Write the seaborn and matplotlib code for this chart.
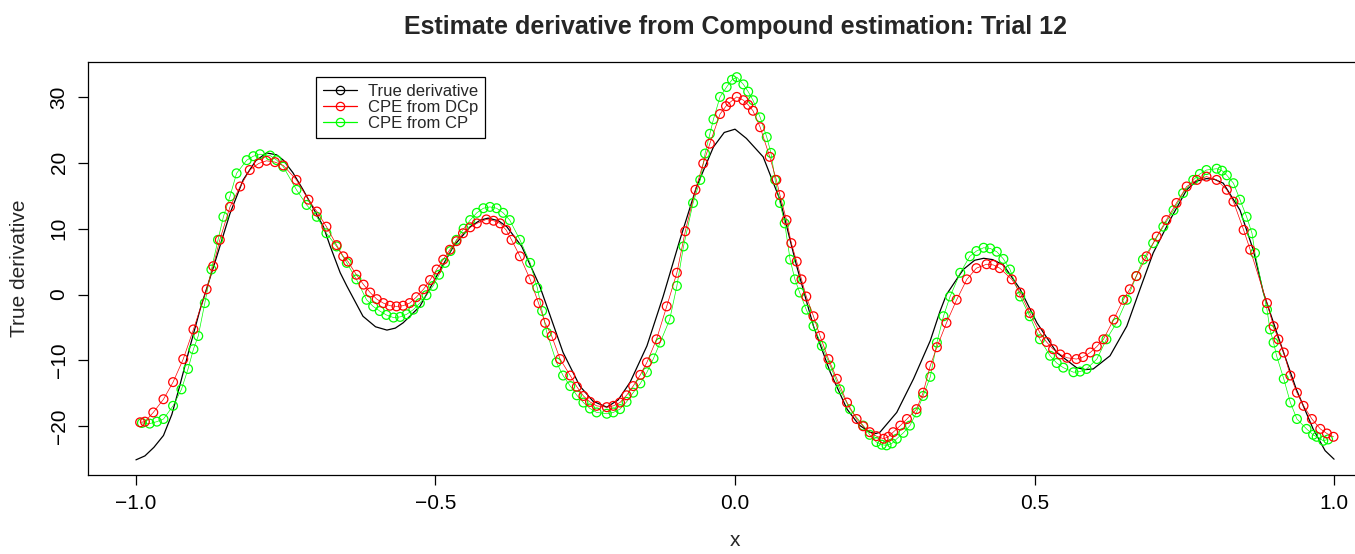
import matplotlib
matplotlib.use("Agg")
import matplotlib.pyplot as plt
from matplotlib.lines import Line2D
import seaborn as sns
import pandas as pd

# ---------------- data ----------------
true_x = [-1.000, -0.985, -0.970, -0.954, -0.940, -0.927, -0.910, -0.893, -0.865, -0.843,
          -0.821, -0.800, -0.782, -0.765, -0.754, -0.738, -0.721, -0.687, -0.676, -0.659,
          -0.648, -0.621, -0.600, -0.581, -0.567, -0.554, -0.526, -0.498, -0.470, -0.442,
          -0.425, -0.412, -0.395, -0.381, -0.356, -0.326, -0.309, -0.287, -0.259, -0.237,
          -0.214, -0.195, -0.175, -0.147, -0.120, -0.092, -0.064, -0.036, -0.018, 0.000,
          0.019, 0.047, 0.075, 0.103, 0.131, 0.159, 0.187, 0.207, 0.225, 0.235,
          0.242, 0.270, 0.298, 0.326, 0.342, 0.353, 0.381, 0.400, 0.415, 0.430,
          0.448, 0.476, 0.504, 0.537, 0.570, 0.585, 0.598, 0.626, 0.654, 0.676,
          0.698, 0.726, 0.754, 0.770, 0.787, 0.800, 0.815, 0.843, 0.865, 0.882,
          0.910, 0.937, 0.965, 0.985, 1.000]
true_y = [-25.1, -24.5, -23.2, -21.4, -18.2, -13.9, -8.0, -2.3, 5.8, 12.3,
          17.4, 20.3, 21.5, 21.2, 20.4, 18.5, 15.9, 10.3, 7.4, 3.3,
          1.3, -3.3, -4.9, -5.4, -5.1, -4.3, -1.8, 2.8, 7.3, 10.3,
          11.3, 11.6, 11.2, 10.3, 7.3, 1.3, -3.1, -8.8, -13.9, -16.2,
          -17.1, -16.0, -13.3, -7.8, -0.3, 8.3, 16.4, 22.4, 24.6, 25.1,
          23.7, 20.9, 14.4, 4.3, -4.8, -11.8, -17.4, -19.8, -20.9, -21.1,
          -20.9, -17.9, -12.8, -7.0, -2.6, 0.0, 3.8, 5.2, 5.5, 5.3,
          4.5, 0.8, -4.3, -8.8, -11.1, -11.4, -11.3, -9.3, -4.8, 0.8,
          6.3, 11.3, 15.9, 17.2, 17.6, 17.5, 16.9, 12.8, 6.8, 0.3,
          -7.3, -14.4, -20.4, -23.7, -25.0]

dcp_x = [-0.993, -0.985, -0.971, -0.954, -0.938, -0.921, -0.904, -0.882, -0.871, -0.860,
         -0.843, -0.826, -0.810, -0.795, -0.782, -0.768, -0.754, -0.732, -0.712, -0.698,
         -0.682, -0.665, -0.654, -0.646, -0.632, -0.620, -0.609, -0.598, -0.587, -0.576,
         -0.565, -0.554, -0.543, -0.532, -0.520, -0.509, -0.498, -0.487, -0.476, -0.465,
         -0.454, -0.442, -0.431, -0.415, -0.403, -0.392, -0.382, -0.373, -0.359, -0.342,
         -0.328, -0.317, -0.306, -0.292, -0.275, -0.264, -0.253, -0.242, -0.231, -0.214,
         -0.203, -0.192, -0.181, -0.170, -0.158, -0.147, -0.131, -0.114, -0.097, -0.083,
         -0.066, -0.053, -0.042, -0.025, -0.015, -0.008, 0.003, 0.014, 0.022, 0.030,
         0.042, 0.058, 0.069, 0.075, 0.086, 0.094, 0.103, 0.111, 0.119, 0.131,
         0.142, 0.156, 0.170, 0.187, 0.203, 0.214, 0.225, 0.236, 0.248, 0.256,
         0.264, 0.276, 0.287, 0.303, 0.314, 0.326, 0.337, 0.353, 0.370, 0.387,
         0.403, 0.420, 0.431, 0.442, 0.462, 0.476, 0.492, 0.509, 0.520, 0.531,
         0.543, 0.554, 0.570, 0.581, 0.593, 0.604, 0.615, 0.632, 0.648, 0.659,
         0.670, 0.687, 0.704, 0.720, 0.737, 0.754, 0.771, 0.787, 0.804, 0.821,
         0.832, 0.849, 0.860, 0.888, 0.899, 0.907, 0.916, 0.927, 0.938, 0.949,
         0.963, 0.977, 0.988, 0.999]
dcp_y = [-19.4, -19.3, -17.9, -15.9, -13.3, -9.8, -5.3, 0.8, 4.3, 8.3,
         13.3, 16.4, 18.9, 19.9, 20.3, 20.1, 19.6, 17.4, 14.4, 12.6,
         10.3, 7.5, 5.8, 5.0, 3.0, 1.5, 0.3, -0.7, -1.3, -1.7,
         -1.8, -1.7, -1.3, -0.4, 0.8, 2.2, 3.8, 5.3, 6.8, 8.1,
         9.3, 10.2, 10.8, 11.4, 11.2, 10.8, 9.8, 8.3, 5.8, 2.3,
         -1.3, -4.3, -6.3, -9.8, -12.3, -14.0, -15.4, -16.3, -16.9, -17.1,
         -16.9, -16.4, -15.3, -13.9, -12.2, -10.3, -6.8, -1.8, 3.3, 9.6,
         15.9, 19.9, 22.9, 27.4, 28.6, 29.2, 30.0, 29.5, 28.8, 27.9,
         25.4, 20.9, 17.4, 15.1, 11.3, 7.8, 5.0, 2.3, -0.3, -3.3,
         -6.3, -9.8, -12.8, -16.4, -18.9, -20.0, -20.9, -21.5, -21.9, -21.6,
         -20.9, -19.9, -18.9, -17.4, -14.9, -10.8, -8.0, -4.3, -0.8, 2.3,
         4.0, 4.6, 4.5, 4.0, 2.3, 0.3, -2.8, -5.8, -7.2, -8.3,
         -9.1, -9.6, -9.8, -9.5, -8.8, -7.9, -6.8, -3.8, -0.8, 0.8,
         2.8, 5.8, 8.8, 11.3, 13.9, 16.4, 17.4, 17.9, 17.4, 15.9,
         14.1, 9.8, 6.8, -1.3, -4.8, -6.8, -8.8, -12.3, -14.9, -16.9,
         -18.9, -20.4, -21.1, -21.6]

cp_x = [-0.990, -0.977, -0.965, -0.954, -0.938, -0.924, -0.913, -0.904, -0.896, -0.885,
        -0.874, -0.863, -0.854, -0.843, -0.832, -0.815, -0.804, -0.793, -0.776, -0.765,
        -0.754, -0.732, -0.715, -0.698, -0.682, -0.665, -0.648, -0.632, -0.615, -0.604,
        -0.593, -0.582, -0.570, -0.559, -0.548, -0.537, -0.526, -0.515, -0.504, -0.494,
        -0.484, -0.475, -0.465, -0.453, -0.442, -0.431, -0.420, -0.409, -0.398, -0.387,
        -0.376, -0.359, -0.342, -0.330, -0.322, -0.314, -0.298, -0.287, -0.275, -0.264,
        -0.253, -0.242, -0.231, -0.214, -0.203, -0.192, -0.181, -0.170, -0.158, -0.147,
        -0.136, -0.125, -0.109, -0.097, -0.086, -0.070, -0.058, -0.050, -0.042, -0.036,
        -0.025, -0.014, -0.005, 0.003, 0.014, 0.022, 0.030, 0.042, 0.053, 0.060,
        0.067, 0.075, 0.083, 0.092, 0.100, 0.108, 0.119, 0.131, 0.145, 0.159,
        0.175, 0.192, 0.214, 0.225, 0.236, 0.245, 0.253, 0.262, 0.270, 0.281,
        0.292, 0.303, 0.314, 0.326, 0.337, 0.348, 0.359, 0.376, 0.392, 0.403,
        0.415, 0.426, 0.437, 0.448, 0.459, 0.476, 0.492, 0.509, 0.526, 0.537,
        0.548, 0.565, 0.576, 0.587, 0.604, 0.620, 0.637, 0.654, 0.670, 0.681,
        0.698, 0.715, 0.732, 0.748, 0.765, 0.776, 0.787, 0.804, 0.813, 0.821,
        0.832, 0.843, 0.854, 0.863, 0.868, 0.888, 0.893, 0.899, 0.904, 0.916,
        0.927, 0.938, 0.954, 0.965, 0.971, 0.982, 0.990]
cp_y = [-19.5, -19.6, -19.3, -18.9, -16.9, -14.4, -11.3, -8.3, -6.3, -1.3,
        3.8, 8.3, 11.8, 14.9, 18.4, 20.4, 21.0, 21.3, 21.1, 20.4,
        19.4, 15.9, 13.6, 11.8, 9.3, 7.3, 4.8, 2.3, -0.8, -1.8,
        -2.5, -3.1, -3.5, -3.4, -3.0, -2.3, -1.3, -0.1, 1.3, 3.0,
        4.8, 6.6, 8.3, 10.0, 11.3, 12.4, 13.1, 13.3, 13.1, 12.4,
        11.3, 8.3, 4.8, 1.0, -2.5, -5.8, -10.3, -12.3, -13.9, -15.3,
        -16.4, -17.3, -17.9, -18.1, -17.9, -17.4, -16.3, -14.9, -13.5, -11.8,
        -9.7, -7.3, -3.8, 1.3, 7.3, 13.9, 17.4, 21.4, 24.4, 26.6,
        30.0, 31.5, 32.6, 33.0, 31.9, 30.8, 29.5, 26.9, 23.9, 21.5,
        17.4, 13.9, 10.8, 5.3, 2.3, 0.3, -2.3, -4.8, -7.8, -10.8,
        -14.4, -17.4, -19.9, -21.3, -22.4, -22.8, -22.9, -22.6, -21.9, -21.0,
        -19.9, -17.9, -15.4, -12.5, -7.3, -3.3, -0.3, 3.3, 5.8, 6.6,
        7.1, 7.0, 6.5, 5.4, 3.8, -0.3, -3.3, -6.8, -9.3, -10.4,
        -11.1, -11.8, -11.7, -11.3, -9.8, -6.8, -4.3, -0.8, 2.8, 5.3,
        7.8, 10.3, 12.8, 15.4, 17.4, 18.3, 18.9, 19.1, 18.8, 18.1,
        16.9, 14.4, 11.8, 9.3, 6.3, -2.3, -5.3, -7.3, -9.3, -12.8,
        -16.4, -18.9, -20.4, -21.3, -21.6, -22.2, -22.0]

series_labels = ["True derivative", "CPE from DCp", "CPE from CP"]
title_text = "Estimate derivative from Compound estimation: Trial 12"
x_ticks = [-1.0, -0.5, 0.0, 0.5, 1.0]
y_ticks = [-20, -10, 0, 10, 20, 30]

# ---------------- style ----------------
sns.set_style("white")
plt.rcParams["font.family"] = ["Liberation Sans", "DejaVu Sans"]

W, H = 1355, 554
fig = plt.figure(figsize=(W / 100, H / 100), dpi=100)
left_px, right_px, top_px, bottom_px = 88, 1382, 62, 475
ax_w = right_px - left_px
ax_h = bottom_px - top_px
ax = fig.add_axes([left_px / W, 1 - bottom_px / H, ax_w / W, ax_h / H])

df_true = pd.DataFrame({"x": true_x, "y": true_y})
df_dcp = pd.DataFrame({"x": dcp_x, "y": dcp_y})
df_cp = pd.DataFrame({"x": cp_x, "y": cp_y})

RED, GREEN = "#FF0000", "#00FF00"
ms = 40

sns.lineplot(data=df_true, x="x", y="y", ax=ax, color="black", linewidth=0.9,
             sort=False, estimator=None, zorder=2)
# CPE from CP (green): thin line + open circles
sns.lineplot(data=df_cp, x="x", y="y", ax=ax, color=GREEN, linewidth=0.5,
             sort=False, estimator=None, zorder=3)
sns.scatterplot(data=df_cp, x="x", y="y", ax=ax, marker="o", s=ms,
                facecolors="none", edgecolors=GREEN, linewidths=0.9, zorder=3)
# CPE from DCp (red): thin line + open circles
sns.lineplot(data=df_dcp, x="x", y="y", ax=ax, color=RED, linewidth=0.5,
             sort=False, estimator=None, zorder=4)
sns.scatterplot(data=df_dcp, x="x", y="y", ax=ax, marker="o", s=ms,
                facecolors="none", edgecolors=RED, linewidths=0.9, zorder=4)

ax.set_xlim(-1.08, 1.08)
ax.set_ylim(-27.4, 35.3)
ax.set_xticks(x_ticks)
ax.set_xticklabels(["\u22121.0", "\u22120.5", "0.0", "0.5", "1.0"])
ax.set_yticks(y_ticks)
ax.set_yticklabels([str(v).replace("-", "\u2212") for v in y_ticks],
                   rotation=90, va="center")

for s in ax.spines.values():
    s.set_color("black")
    s.set_linewidth(0.9)
ax.spines["right"].set_visible(False)
ax.tick_params(axis="both", direction="out", length=7, width=0.9, color="black",
               labelsize=15, labelcolor="black", bottom=True, left=True)
ax.tick_params(axis="x", pad=7)
ax.tick_params(axis="y", pad=7)

ax.set_xlabel("x", fontsize=15)
ax.xaxis.label.set_va("center")
ax.xaxis.set_label_coords((735 - left_px) / ax_w, (bottom_px - 540) / ax_h)
ax.set_ylabel("True derivative", fontsize=15)
ax.yaxis.label.set_va("center")
ax.yaxis.set_label_coords((20 - left_px) / ax_w, 0.5)

fig.text(735 / W, 1 - 27 / H, title_text, ha="center", va="center",
         fontsize=18, fontweight="bold")

handles = [
    Line2D([], [], color=c, lw=0.9, marker="o", markersize=6,
           markerfacecolor="none", markeredgecolor=c, markeredgewidth=0.9)
    for c in ["black", RED, GREEN]
]
leg = ax.legend(handles, series_labels, loc="upper left",
                bbox_to_anchor=((316 - left_px) / ax_w, (bottom_px - 77) / ax_h),
                borderaxespad=0, frameon=True, fancybox=False, framealpha=1,
                edgecolor="black", fontsize=12, handlelength=2.05, handletextpad=0.65,
                labelspacing=0.05, borderpad=0.42)
leg.get_frame().set_linewidth(0.9)

fig.savefig("out.png", dpi=100)
